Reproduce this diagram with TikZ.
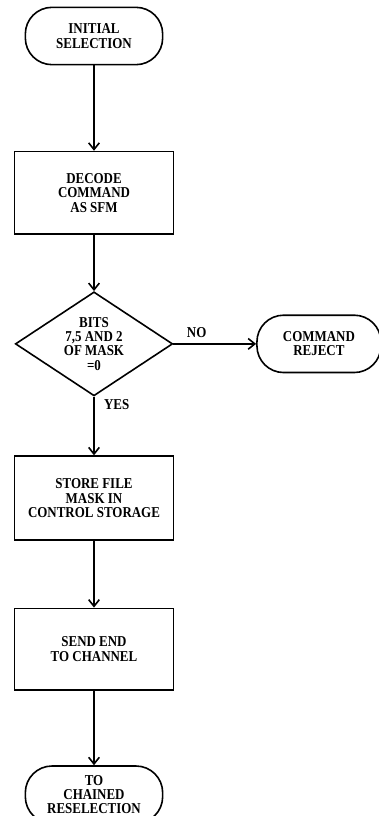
\documentclass[tikz,border=0pt]{standalone}
\usepackage{fontspec}
\newfontfamily\chartfont{Liberation Serif}[FakeStretch=0.86]
\usetikzlibrary{shapes.geometric,arrows.meta,positioning}

\begin{document}
\begin{tikzpicture}[
  x=0.75pt, y=-0.75pt,
  block/.style={draw, line width=1.2pt, minimum width=119pt, minimum height=62pt, inner sep=0pt, align=center, font=\chartfont\bfseries\fontsize{11.3}{10.8}\selectfont},
  term/.style={draw, line width=1.2pt, rounded corners=20pt, minimum width=103pt, minimum height=43pt, inner sep=0pt, align=center, font=\chartfont\bfseries\fontsize{11.3}{10.8}\selectfont},
  decide/.style={draw, diamond, line width=1.2pt, minimum width=118pt, minimum height=78pt, inner sep=-5pt, align=center, font=\chartfont\bfseries\fontsize{11.3}{10.8}\selectfont},
  arr/.style={-{Straight Barb[length=5pt,width=8pt]}, line width=1.2pt},
  lbl/.style={font=\chartfont\bfseries\fontsize{11.3}{10.8}\selectfont, inner sep=2pt},
  node distance=64pt
]
\useasboundingbox (0,0) rectangle (378,816);

\node[term] (init) at (94,36) {INITIAL\\SELECTION};

\node[block, below=64pt of init] (decode) {DECODE\\COMMAND\\AS SFM};

\node[decide, below=42pt of decode] (bits) {BITS\\7,5 AND 2\\OF MASK\\=0};

\node[term, minimum width=93pt, right=62pt of bits] (reject) {COMMAND\\REJECT};

\node[block, minimum height=63pt, below=44pt of bits] (store) {STORE FILE\\MASK IN\\CONTROL STORAGE};

\node[block, minimum height=61pt, below=50pt of store] (send) {SEND END\\TO CHANNEL};

\node[term, below=56pt of send] (chain) {TO\\CHAINED\\RESELECTION};

\draw[arr] (init) -- (decode);
\draw[arr] (decode) -- (bits);
\draw[arr] (bits) -- node[lbl, above=2pt, pos=0.28] (no) {NO} (reject);
\draw[arr] (bits) -- node[lbl, right=5pt, pos=0.14] (yes) {YES} (store);
\draw[arr] (store) -- (send);
\draw[arr] (send) -- (chain);

\end{tikzpicture}
\end{document}
